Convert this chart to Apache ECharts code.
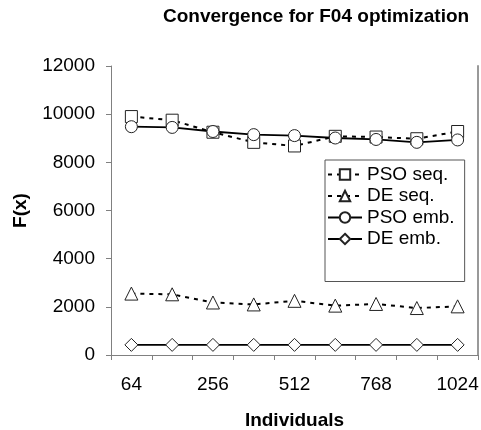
<!DOCTYPE html>
<html>
<head>
<meta charset="utf-8">
<script src="https://cdn.jsdelivr.net/npm/echarts@6/dist/echarts.min.js"></script>
<style>html,body{margin:0;padding:0;background:#fff;}#c{width:481px;height:430px;}</style>
</head>
<body>
<div id="c"></div>
<script>
var categories = ['64', '128', '256', '384', '512', '640', '768', '896', '1024'];
var psoSeq = [9900, 9750, 9250, 8830, 8680, 9080, 9050, 8980, 9280];
var deSeq = [2550, 2520, 2180, 2100, 2250, 2050, 2120, 1950, 2020];
var psoEmb = [9480, 9450, 9280, 9150, 9110, 9010, 8950, 8830, 8930];
var deEmb = [420, 420, 420, 420, 420, 420, 420, 420, 420];
var seriesNames = ['PSO seq.', 'DE seq.', 'PSO emb.', 'DE emb.'];

var FONT = '"Liberation Sans", Arial, Helvetica, sans-serif';
var chart = echarts.init(document.getElementById('c'), null, {renderer: 'canvas'});

function mk(name, data, symbol, size, dashed) {
  return {
    name: name,
    type: 'line',
    data: data,
    symbol: symbol,
    symbolSize: size,
    showAllSymbol: true,
    lineStyle: {color: '#000', width: dashed ? 2 : 1.8, type: dashed ? [4, 5] : 'solid'},
    itemStyle: {color: '#fff', borderColor: '#222', borderWidth: 1},
    emphasis: {disabled: true},
    animation: false
  };
}

chart.setOption({
  backgroundColor: '#fff',
  animation: false,
  title: {
    text: 'Convergence for F04 optimization',
    left: 158, top: 2,
    textStyle: {fontFamily: FONT, fontSize: 19, fontWeight: 'bold', color: '#000'}
  },
  grid: {left: 111, right: 3, top: 66, bottom: 75, containLabel: false, outerBoundsMode: 'none'},
  legend: {
    data: seriesNames,
    orient: 'vertical',
    left: 325, top: 160,
    padding: [5, 10, 33, 2],
    itemWidth: 34, itemHeight: 13, itemGap: 2.5,
    backgroundColor: '#fff',
    borderColor: '#555', borderWidth: 1,
    textStyle: {fontFamily: FONT, fontSize: 19, color: '#000'}
  },
  xAxis: {
    type: 'category',
    data: categories,
    boundaryGap: true,
    name: 'Individuals',
    nameLocation: 'middle',
    nameGap: 56,
    nameTextStyle: {fontFamily: FONT, fontSize: 19, fontWeight: 'bold', color: '#000'},
    axisLine: {lineStyle: {color: '#808080', width: 1}},
    axisTick: {show: true, interval: 0, length: 5, inside: false, lineStyle: {color: '#808080'}},
    axisLabel: {interval: 1, margin: 20, fontFamily: FONT, fontSize: 19, color: '#000'},
    splitLine: {show: false}
  },
  yAxis: [{
    type: 'value',
    min: 0, max: 12000, interval: 2000,
    name: 'F(x)',
    nameLocation: 'middle',
    nameGap: 81,
    nameRotate: 90,
    nameTextStyle: {fontFamily: FONT, fontSize: 19, fontWeight: 'bold', color: '#000'},
    axisLine: {show: true, lineStyle: {color: '#808080', width: 1}},
    axisTick: {show: true, length: 5, lineStyle: {color: '#808080'}},
    axisLabel: {margin: 16, fontFamily: FONT, fontSize: 19, color: '#000',
      formatter: function (v) { return String(v); }},
    splitLine: {show: false}
  }, {
    type: 'value',
    position: 'right',
    min: 0, max: 12000, interval: 2000,
    axisLine: {show: true, lineStyle: {color: '#999', width: 2}},
    axisTick: {show: false},
    axisLabel: {show: false},
    splitLine: {show: false}
  }],
  series: [
    mk(seriesNames[0], psoSeq, 'rect', 12, true),
    mk(seriesNames[1], deSeq, 'triangle', 13, true),
    mk(seriesNames[2], psoEmb, 'circle', 12, false),
    mk(seriesNames[3], deEmb, 'diamond', 13, false)
  ]
});
</script>
</body>
</html>
